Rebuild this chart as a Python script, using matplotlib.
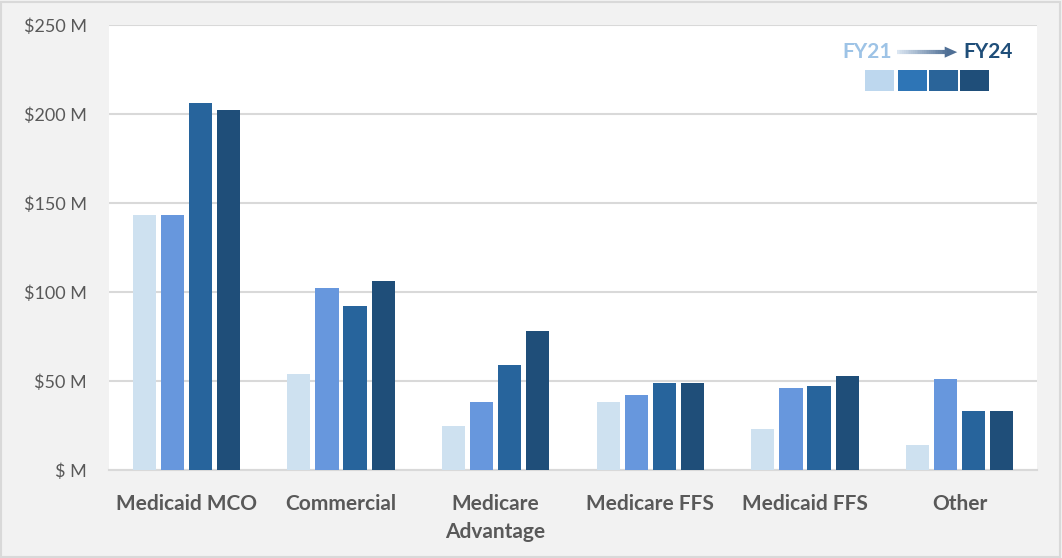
import numpy as np
import matplotlib
matplotlib.use('Agg')
import matplotlib.pyplot as plt
from matplotlib.patches import Rectangle
from matplotlib.collections import LineCollection
from matplotlib.ticker import FuncFormatter

plt.rcParams['font.family'] = ['Lato', 'DejaVu Sans']

categories = ['Medicaid MCO', 'Commercial', 'Medicare\nAdvantage',
              'Medicare FFS', 'Medicaid FFS', 'Other']
fy21 = [143, 54, 25, 38, 23, 14]
fy22 = [143, 102, 38, 42, 46, 51]
fy23 = [206, 92, 59, 49, 47, 33]
fy24 = [202, 106, 78, 49, 53, 33]
series = [fy21, fy22, fy23, fy24]
bar_colors = ['#cee1f0', '#6797dd', '#27649c', '#1f4e79']
key_colors = ['#bdd7ee', '#2e75b6', '#2a6499', '#1f4e79']
yticks = [0, 50, 100, 150, 200, 250]

fig = plt.figure(figsize=(10.62, 5.58), dpi=100, facecolor='#f2f2f2')
ax = fig.add_axes([109 / 1062, 1 - 470 / 558, 928 / 1062, 445 / 558])
ax.set_facecolor('white')

x = np.arange(len(categories))
step = 0.182
width = 0.15
for i, (vals, c) in enumerate(zip(series, bar_colors)):
    ax.bar(x + (i - 1.5) * step, vals, width=width, color=c, zorder=3)

ax.set_xlim(-0.5, len(categories) - 0.5)
ax.set_ylim(0, 250)
ax.set_yticks(yticks)
ax.yaxis.set_major_formatter(FuncFormatter(lambda v, p: '$ M' if v == 0 else f'${v:.0f} M'))
ax.set_xticks(x)
ax.set_xticklabels(categories, fontsize=15, fontweight='bold', color='#595959',
                   linespacing=1.55)
ax.tick_params(axis='y', length=0, pad=16, labelsize=13, labelcolor='#595959')
ax.tick_params(axis='x', length=0, pad=17)
for lab in ax.get_yticklabels():
    lab.set_horizontalalignment('right')
ax.grid(axis='y', color='#d9d9d9', linewidth=1.5, zorder=0)
for s in ['left', 'right', 'top']:
    ax.spines[s].set_visible(False)
ax.spines['bottom'].set_color('#d9d9d9')
ax.spines['bottom'].set_linewidth(1.5)

# FY21 -> FY24 key
ax.text(0.844, 0.939, 'FY21', transform=ax.transAxes, ha='right', va='center',
        fontsize=15, fontweight='bold', color='#9dc3e6')
ax.text(0.921, 0.939, 'FY24', transform=ax.transAxes, ha='left', va='center',
        fontsize=15, fontweight='bold', color='#1f4e79')
xs = np.linspace(0.849, 0.905, 30)
segs = [[(xs[k], 0.939), (xs[k + 1], 0.939)] for k in range(len(xs) - 1)]
grad = plt.cm.colors.LinearSegmentedColormap.from_list('g', ['#dbe6f2', '#4f6f95'])
lc = LineCollection(segs, colors=[grad(t) for t in np.linspace(0, 1, len(segs))],
                    linewidths=3, transform=ax.transAxes, zorder=5)
ax.add_collection(lc)
ax.annotate('', xy=(0.917, 0.939), xytext=(0.903, 0.939), xycoords='axes fraction',
            arrowprops=dict(arrowstyle='-|>,head_width=0.4,head_length=0.9',
                            color='#4f6f95', lw=0))
lefts = [0.815, 0.850, 0.884, 0.917]
for lx, c in zip(lefts, key_colors):
    ax.add_patch(Rectangle((lx, 0.852), 0.031, 0.047, transform=ax.transAxes,
                           facecolor=c, edgecolor='none', zorder=5))

fig.add_artist(Rectangle((0.001, 0.002), 0.997, 0.995, transform=fig.transFigure,
                         fill=False, edgecolor='#d9d9d9', linewidth=1.5))

fig.savefig('out.png', dpi=100, facecolor=fig.get_facecolor())
